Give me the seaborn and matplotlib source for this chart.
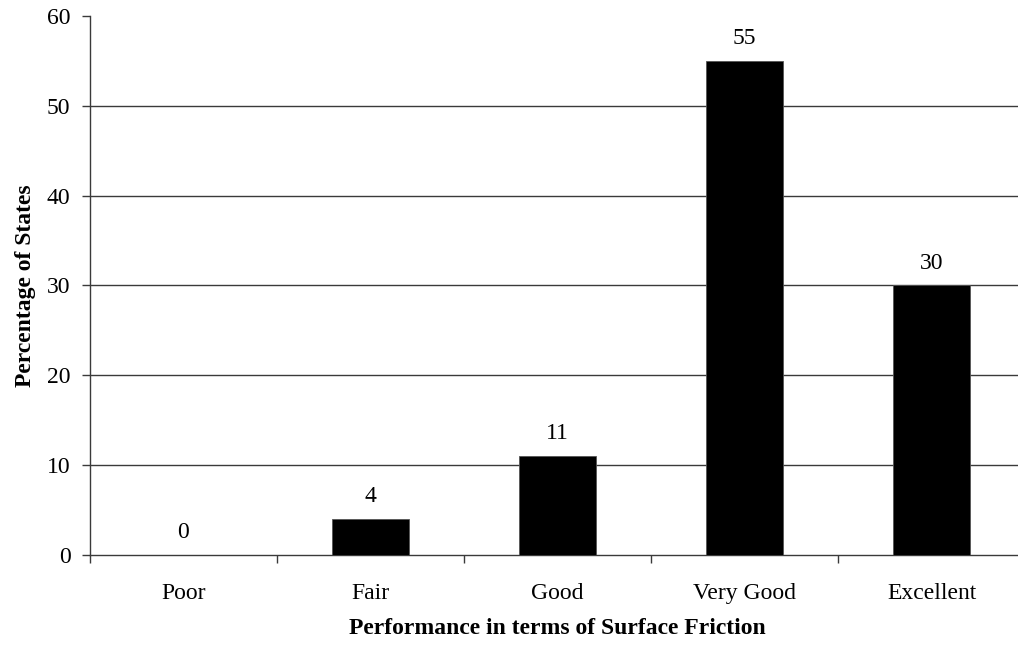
import matplotlib
matplotlib.use("Agg")
import matplotlib.pyplot as plt
import seaborn as sns
import pandas as pd
import numpy as np

categories = ["Poor", "Fair", "Good", "Very Good", "Excellent"]
percentages = [0, 4, 11, 55, 30]

df = pd.DataFrame({"rating": categories, "pct": percentages})

sns.set_style("ticks")
plt.rcParams["font.serif"] = ["Liberation Serif", "DejaVu Serif"]
plt.rcParams["font.family"] = "serif"
plt.rcParams["text.color"] = "black"
plt.rcParams["xtick.color"] = "black"
plt.rcParams["ytick.color"] = "black"
plt.rcParams["axes.labelcolor"] = "black"

line_col = "#3a3a3a"
fs = 17
fam = "Liberation Serif"

fig = plt.figure(figsize=(10.18, 6.51), dpi=100)
# plot area runs past the right edge of the picture, as in the reference
ax = fig.add_axes([0.0884, 0.1475, 0.9185, 0.828])

sns.barplot(data=df, x="rating", y="pct", color="black", width=0.41,
            edgecolor="#555555", linewidth=0.6, saturation=1, ax=ax, zorder=3)

ax.set_ylim(0, 60)
ax.set_yticks(range(0, 61, 10))
ax.set_xlim(-0.5, len(categories) - 0.5)

# horizontal gridlines, none at the top
for y in range(10, 60, 10):
    ax.axhline(y, color=line_col, linewidth=1.0, zorder=1)

for i, v in enumerate(percentages):
    ax.annotate(str(v), (i, v), xytext=(0, 12), textcoords="offset points",
                ha="center", va="baseline", fontsize=fs, family=fam)

for s in ["top", "right"]:
    ax.spines[s].set_visible(False)
for s in ["left", "bottom"]:
    ax.spines[s].set_color(line_col)
    ax.spines[s].set_linewidth(1.0)

ax.tick_params(axis="x", which="major", length=0, pad=20, labelsize=fs)
ax.set_xticks(np.arange(-0.5, len(categories), 1), minor=True)
ax.tick_params(axis="x", which="minor", length=5.5, width=1.0, color=line_col, direction="out")
ax.tick_params(axis="y", length=6, width=1.0, color=line_col, direction="out",
               labelsize=fs, pad=8)
for lab in ax.get_xticklabels() + ax.get_yticklabels():
    lab.set_family(fam)

ax.set_xlabel("Performance in terms of Surface Friction", fontsize=fs,
              fontweight="bold", labelpad=10, family=fam)
ax.set_ylabel("Percentage of States", fontsize=fs, fontweight="bold",
              labelpad=8, family=fam)

fig.savefig("out.png", dpi=100)
